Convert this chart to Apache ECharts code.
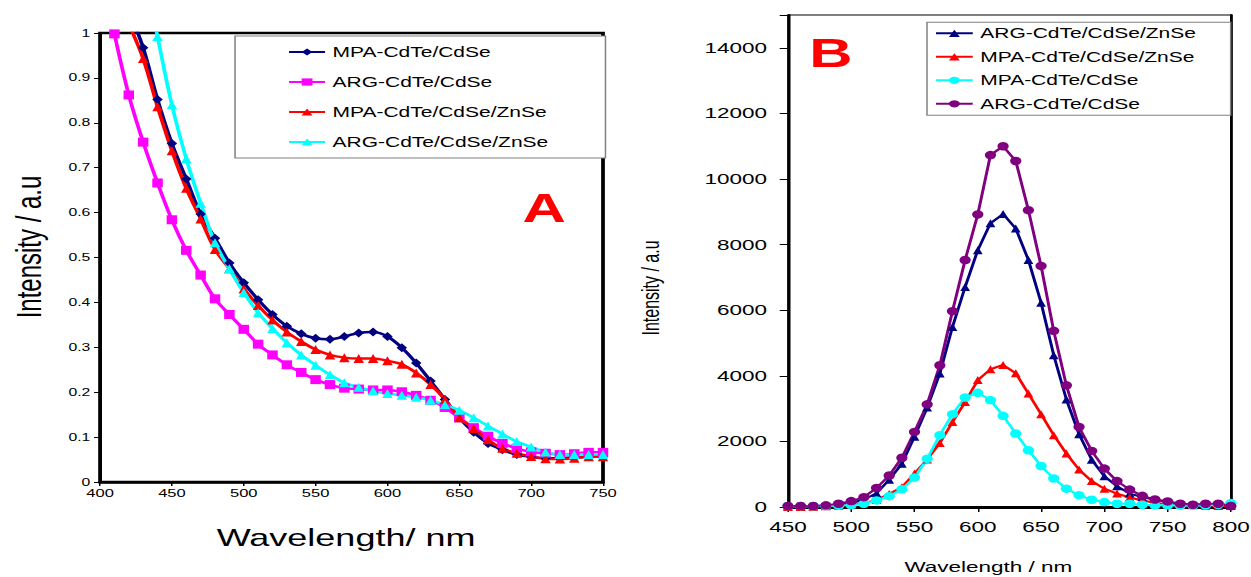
<!DOCTYPE html>
<html><head><meta charset="utf-8">
<script src="https://cdn.jsdelivr.net/npm/echarts@6/dist/echarts.min.js"></script>
<style>
html,body{margin:0;padding:0;background:#fff;overflow:hidden;width:1251px;height:577px}
#c{width:834px;height:577px;transform:scaleX(1.5);transform-origin:0 0;}
</style>
</head><body><div id="c"></div>
<script>
// ---------- Panel A (absorption) ----------
const wavelengthsA = [410,420,430,440,450,460,470,480,490,500,510,520,530,540,550,560,570,580,590,600,610,620,630,640,650,660,670,680,690,700,710,720,730,740,750];
const mpaCdTeCdSeA = [null,1.05,0.967,0.852,0.754,0.675,0.597,0.543,0.488,0.444,0.406,0.373,0.347,0.330,0.320,0.318,0.324,0.332,0.334,0.324,0.299,0.265,0.225,0.184,0.143,0.111,0.086,0.072,0.061,0.056,0.053,0.053,0.055,0.056,0.057];
const argCdTeCdSeA = [0.998,0.862,0.757,0.666,0.584,0.516,0.461,0.408,0.373,0.340,0.307,0.283,0.261,0.244,0.228,0.217,0.209,0.207,0.205,0.205,0.201,0.193,0.182,0.166,0.143,0.121,0.102,0.086,0.075,0.067,0.064,0.061,0.063,0.066,0.066];
const mpaZnSeA = [null,1.02,0.943,0.836,0.738,0.654,0.586,0.518,0.475,0.430,0.393,0.361,0.334,0.313,0.295,0.283,0.277,0.275,0.275,0.270,0.262,0.243,0.217,0.184,0.143,0.119,0.094,0.075,0.064,0.057,0.052,0.051,0.053,0.056,0.056];
const argZnSeA = [null,null,1.15,0.992,0.840,0.720,0.621,0.533,0.475,0.422,0.377,0.342,0.310,0.283,0.260,0.239,0.221,0.211,0.203,0.197,0.193,0.189,0.182,0.172,0.160,0.143,0.125,0.107,0.090,0.078,0.067,0.061,0.061,0.061,0.061];
const legendA = ['MPA-CdTe/CdSe','ARG-CdTe/CdSe','MPA-CdTe/CdSe/ZnSe','ARG-CdTe/CdSe/ZnSe'];

// ---------- Panel B (emission) ----------
const wavelengthsB = [450,460,470,480,490,500,510,520,530,540,550,560,570,580,590,600,610,620,630,640,650,660,670,680,690,700,710,720,730,740,750,760,770,780,790,800];
const argZnSeB = [20,20,20,30,60,120,230,420,830,1320,2140,3030,4070,5490,6710,7830,8650,8930,8490,7530,6230,4630,3280,2220,1440,940,630,410,300,220,150,100,80,60,50,40];
const mpaZnSeB = [0,0,10,20,40,80,120,210,400,600,1020,1450,1950,2590,3200,3870,4200,4330,4080,3460,2830,2190,1630,1140,790,560,410,290,200,130,80,60,50,40,30,30];
const mpaCdTeCdSeB = [30,30,30,30,40,60,100,200,330,540,900,1470,2190,2830,3340,3480,3260,2780,2240,1730,1250,870,560,360,220,150,100,100,70,50,50,40,40,50,70,120];
const argCdTeCdSeB = [30,30,30,50,100,180,300,580,960,1500,2290,3130,4320,5970,7530,8920,10730,11000,10550,9050,7350,5370,3710,2440,1710,1170,790,530,340,230,170,100,70,100,100,30];
const legendB = ['ARG-CdTe/CdSe/ZnSe','MPA-CdTe/CdSe/ZnSe','MPA-CdTe/CdSe','ARG-CdTe/CdSe'];

const FONT = 'Liberation Sans, Arial, sans-serif';
const pairs = (xs, ys) => xs.map((x, i) => [x, ys[i]]);
const SUFFIX_B = ' \u0000B';
const stripB = n => n.replace(SUFFIX_B, '');

function lineA(name, xs, ys, color, symbol) {
  return {
    type: 'line', name, xAxisIndex: 0, yAxisIndex: 0,
    data: pairs(xs, ys), smooth: 0.35, clip: true, connectNulls: false,
    symbol, symbolSize: [7, 9], showAllSymbol: true,
    lineStyle: { color, width: 2.5 }, itemStyle: { color },
    emphasis: { disabled: true }, animation: false
  };
}
function lineB(name, xs, ys, color, symbol, size) {
  return {
    type: 'line', name: name + SUFFIX_B, xAxisIndex: 1, yAxisIndex: 1,
    data: pairs(xs, ys), smooth: false, clip: true,
    symbol, symbolSize: size, showAllSymbol: true,
    lineStyle: { color, width: 2 }, itemStyle: { color },
    emphasis: { disabled: true }, animation: false
  };
}

const axisLbl = (size, margin) => ({ fontSize: size, color: '#000', fontFamily: FONT, margin });

const chart = echarts.init(document.getElementById('c'), null, { renderer: 'svg' });
chart.setOption({
  backgroundColor: '#fff',
  animation: false,
  grid: [
    { left: 66.7, top: 33, width: 335.3, height: 449, show: true, borderColor: '#000', borderWidth: 2.5, containLabel: false, outerBoundsMode: 'none' },
    { left: 525.3, top: 15, width: 295.3, height: 492, show: true, borderColor: '#000', borderWidth: 1, containLabel: false, outerBoundsMode: 'none' }
  ],
  xAxis: [
    { gridIndex: 0, type: 'value', min: 400, max: 750, interval: 50,
      axisLine: { onZero: false, lineStyle: { color: '#000', width: 2.5 } },
      axisTick: { length: 4, lineStyle: { color: '#000', width: 1 } },
      axisLabel: axisLbl(11, 6), splitLine: { show: false } },
    { gridIndex: 1, type: 'value', min: 450, max: 800, interval: 50,
      axisLine: { onZero: false, lineStyle: { color: '#000', width: 3 } },
      axisTick: { length: 5, lineStyle: { color: '#000', width: 1 } },
      axisLabel: axisLbl(15, 12), splitLine: { show: false } }
  ],
  yAxis: [
    { gridIndex: 0, type: 'value', min: 0, max: 1, interval: 0.1,
      axisLine: { show: true, onZero: false, lineStyle: { color: '#000', width: 2 } },
      axisTick: { show: true, length: 4, lineStyle: { color: '#000', width: 1 } },
      axisLabel: axisLbl(10.5, 6.5), splitLine: { show: false } },
    { gridIndex: 1, type: 'value', min: 0, max: 15000, interval: 2000,
      axisLine: { show: true, onZero: false, lineStyle: { color: '#000', width: 2 } },
      axisTick: { show: true, length: 5.5, lineStyle: { color: '#000', width: 1 } },
      axisLabel: Object.assign(axisLbl(15, 14), { formatter: v => (v > 14000 ? '' : String(v)) }),
      splitLine: { show: false } },
    { gridIndex: 1, type: 'value', position: 'right', min: 0, max: 15000, interval: 2000,
      axisLine: { show: true, onZero: false, lineStyle: { color: '#000', width: 1.8 } },
      axisTick: { show: false }, axisLabel: { show: false }, splitLine: { show: false } }
  ],
  legend: [
    { left: 156.7, top: 36, orient: 'vertical', selectedMode: false,
      padding: [9, 38, 9, 35], itemGap: 16, itemWidth: 24, itemHeight: 9,
      borderColor: '#808080', borderWidth: 1, backgroundColor: '#fff',
      textStyle: { fontSize: 14, color: '#000', fontFamily: FONT },
      data: legendA },
    { left: 618, top: 22.3, orient: 'vertical', selectedMode: false,
      padding: [4, 23, 4.5, 5], itemGap: 9.5, itemWidth: 24.5, itemHeight: 9,
      borderColor: '#808080', borderWidth: 1, backgroundColor: '#fff',
      textStyle: { fontSize: 14, color: '#000', fontFamily: FONT },
      formatter: stripB,
      data: legendB.map(n => n + SUFFIX_B) }
  ],
  series: [
    lineA(legendA[0], wavelengthsA, mpaCdTeCdSeA, '#000080', 'diamond'),
    lineA(legendA[1], wavelengthsA, argCdTeCdSeA, '#FF00FF', 'rect'),
    lineA(legendA[2], wavelengthsA, mpaZnSeA, '#FF0000', 'triangle'),
    lineA(legendA[3], wavelengthsA, argZnSeA, '#00FFFF', 'triangle'),
    lineB(legendB[0], wavelengthsB, argZnSeB, '#000080', 'triangle', [6.5, 8]),
    lineB(legendB[1], wavelengthsB, mpaZnSeB, '#FF0000', 'triangle', [6.5, 8]),
    lineB(legendB[2], wavelengthsB, mpaCdTeCdSeB, '#00FFFF', 'circle', [7.5, 8.5]),
    lineB(legendB[3], wavelengthsB, argCdTeCdSeB, '#800080', 'circle', [7.5, 8.5])
  ],
  graphic: [
    { type: 'text', x: 18.7, y: 247, rotation: Math.PI / 2,
      style: { text: 'Intensity / a.u', fill: '#000', font: '24px ' + FONT, align: 'center', verticalAlign: 'middle' } },
    { type: 'text', x: 230.7, y: 537,
      style: { text: 'Wavelength/ nm', fill: '#000', font: '24px ' + FONT, align: 'center', verticalAlign: 'middle' } },
    { type: 'text', x: 362.7, y: 208,
      style: { text: 'A', fill: '#FF0000', font: 'bold 40px ' + FONT, align: 'center', verticalAlign: 'middle' } },
    { type: 'text', x: 434, y: 288, rotation: Math.PI / 2,
      style: { text: 'Intensity / a.u', fill: '#000', font: '16px ' + FONT, align: 'center', verticalAlign: 'middle' } },
    { type: 'text', x: 658.9, y: 567,
      style: { text: 'Wavelength / nm', fill: '#000', font: '15px ' + FONT, align: 'center', verticalAlign: 'middle' } },
    { type: 'text', x: 554, y: 53,
      style: { text: 'B', fill: '#FF0000', font: 'bold 40px ' + FONT, align: 'center', verticalAlign: 'middle' } }
  ]
});
</script></body></html>
